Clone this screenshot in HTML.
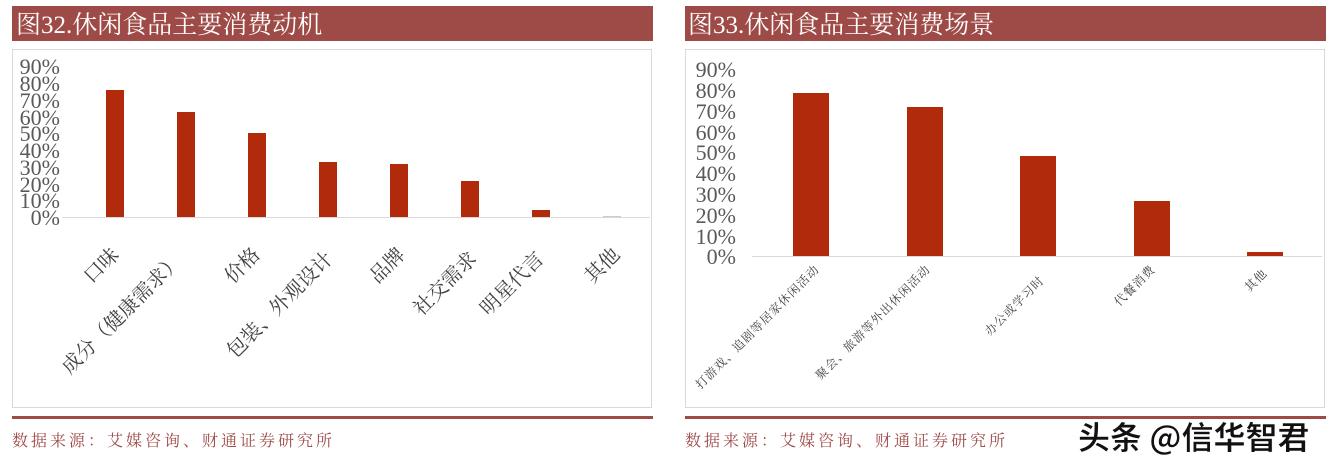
<!DOCTYPE html>
<html><head><meta charset="utf-8"><style>
body{margin:0;width:1344px;height:462px;background:#fff;overflow:hidden}
svg{display:block}
</style></head><body>
<svg width="1344" height="462" xmlns="http://www.w3.org/2000/svg" font-family="Liberation Serif, Noto Serif CJK SC, serif">
<!-- Left -->
<rect x="12" y="6" width="641" height="35" fill="#9e4a47"/>
<text x="16" y="33" font-size="25" fill="#fff">图32.休闲食品主要消费动机</text>
<rect x="12.5" y="49.5" width="639" height="358" fill="#fff" stroke="#d9d9d9"/>
<g font-size="22" fill="#595959" text-anchor="end" font-family="Liberation Serif, serif">
<text x="60" y="74">90%</text><text x="60" y="91">80%</text><text x="60" y="108">70%</text>
<text x="60" y="125">60%</text><text x="60" y="141">50%</text><text x="60" y="158">40%</text>
<text x="60" y="175">30%</text><text x="60" y="192">20%</text><text x="60" y="208">10%</text>
<text x="60" y="225">0%</text></g>
<line x1="62" y1="217.5" x2="650" y2="217.5" stroke="#d9d9d9" stroke-width="1"/>
<g fill="#b22a0c">
<rect x="106" y="90" width="18" height="127"/>
<rect x="177" y="112" width="18" height="105"/>
<rect x="248" y="133" width="18" height="84"/>
<rect x="319" y="162" width="18" height="55"/>
<rect x="390" y="164" width="18" height="53"/>
<rect x="461" y="181" width="18" height="36"/>
<rect x="532" y="210" width="18" height="7"/>
<rect x="603" y="216" width="18" height="1" fill="#ccc"/>
</g>
<g font-size="20" fill="#404040" text-anchor="end" font-family="Noto Serif CJK SC, serif">
<text transform="translate(120,256) rotate(-45)">口味</text>
<text transform="translate(183,262) rotate(-45)">成分（健康需求）</text>
<text transform="translate(261,256) rotate(-45)">价格</text>
<text transform="translate(334,260) rotate(-45)">包装、外观设计</text>
<text transform="translate(406,256) rotate(-45)">品牌</text>
<text transform="translate(478,260) rotate(-45)">社交需求</text>
<text transform="translate(545,260) rotate(-45)">明星代言</text>
<text transform="translate(621,256) rotate(-45)">其他</text>
</g>
<rect x="12" y="416" width="641" height="3" fill="#9e4a47"/>
<text x="12" y="446" font-size="16" letter-spacing="3" fill="#9e4a47" font-family="Noto Serif CJK SC, serif">数据来源：艾媒咨询、财通证券研究所</text>
<!-- Right -->
<rect x="685" y="6" width="641" height="35" fill="#9e4a47"/>
<text x="688" y="33" font-size="25" fill="#fff">图33.休闲食品主要消费场景</text>
<rect x="685.5" y="49.5" width="639" height="358" fill="#fff" stroke="#d9d9d9"/>
<g font-size="22" fill="#595959" text-anchor="end" font-family="Liberation Serif, serif">
<text x="736" y="77">90%</text><text x="736" y="98">80%</text><text x="736" y="119">70%</text>
<text x="736" y="140">60%</text><text x="736" y="160">50%</text><text x="736" y="181">40%</text>
<text x="736" y="202">30%</text><text x="736" y="223">20%</text><text x="736" y="244">10%</text>
<text x="736" y="264">0%</text></g>
<line x1="752" y1="256.5" x2="1322" y2="256.5" stroke="#d9d9d9"/>
<g fill="#b22a0c">
<rect x="793" y="93" width="36" height="163"/>
<rect x="907" y="107" width="36" height="149"/>
<rect x="1020" y="156" width="36" height="100"/>
<rect x="1134" y="201" width="36" height="55"/>
<rect x="1247" y="252" width="36" height="4"/>
</g>
<g font-size="12" letter-spacing="1" fill="#404040" text-anchor="end" font-family="Noto Serif CJK SC, serif">
<text transform="translate(820,270) rotate(-45)">打游戏、追剧等居家休闲活动</text>
<text transform="translate(931,270) rotate(-45)">聚会、旅游等外出休闲活动</text>
<text transform="translate(1045,281) rotate(-45)">办公或学习时</text>
<text transform="translate(1156,270) rotate(-45)">代餐消费</text>
<text transform="translate(1268,274) rotate(-45)">其他</text>
</g>
<rect x="685" y="416" width="641" height="3" fill="#9e4a47"/>
<text x="685" y="446" font-size="16" letter-spacing="3" fill="#9e4a47" font-family="Noto Serif CJK SC, serif">数据来源：艾媒咨询、财通证券研究所</text>
<text x="1078" y="449" font-size="32" fill="#111" font-weight="bold" font-family="Noto Sans CJK SC, sans-serif" stroke="#fff" stroke-width="0.5">头条 @信华智君</text>
</svg>
</body></html>
